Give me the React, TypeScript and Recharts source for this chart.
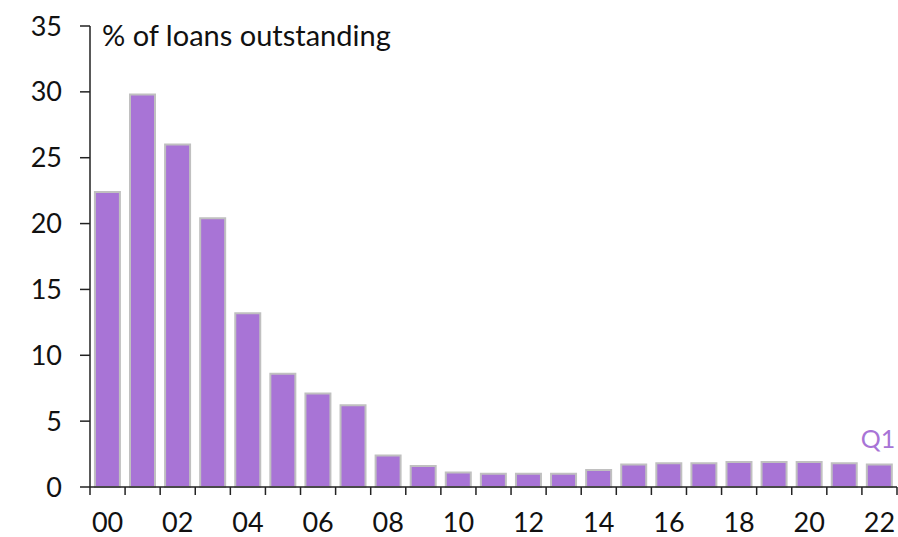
import { BarChart, Bar, XAxis, YAxis, LabelList } from "recharts";

const years = ["00", "01", "02", "03", "04", "05", "06", "07", "08", "09", "10", "11", "12", "13", "14", "15", "16", "17", "18", "19", "20", "21", "22"];
const shares = [22.4, 29.8, 26.0, 20.4, 13.2, 8.6, 7.1, 6.2, 2.4, 1.6, 1.1, 1.0, 1.0, 1.0, 1.3, 1.7, 1.8, 1.8, 1.9, 1.9, 1.9, 1.8, 1.7];
const yTicks = [0, 5, 10, 15, 20, 25, 30, 35];

const W = 898;
const H = 537;
const LEFT = 90;
const RIGHT = 1;
const FONT = "Lato, 'DejaVu Sans', sans-serif";
const PURPLE = "#a874d6";

const data = years.map((y, i) => ({ year: y, value: shares[i] }));
const band = (W - LEFT - RIGHT) / years.length;

function YearTick({ x, y, payload, index }: any) {
  const left = x - band / 2;
  return (
    <g>
      <line x1={left} y1={y} x2={left} y2={y + 8} stroke="#222" strokeWidth={1.5} />
      {index === years.length - 1 && (
        <line x1={x + band / 2} y1={y} x2={x + band / 2} y2={y + 8} stroke="#222" strokeWidth={1.5} />
      )}
      {index % 2 === 0 && (
        <text x={x} y={y + 45} textAnchor="middle" fontSize={27} fill="#111" fontFamily={FONT}>
          {payload.value}
        </text>
      )}
    </g>
  );
}

function QuarterLabel({ x, y, width, index }: any) {
  if (index !== years.length - 1) return null;
  return (
    <text x={x + width / 2 + 16} y={y - 17} textAnchor="end" fontSize={25} fill={PURPLE} fontFamily={FONT}>
      Q1
    </text>
  );
}

export default function App() {
  return (
    <div style={{ position: "absolute", left: 0, top: 0, width: W, height: H, background: "#fff" }}>
      <BarChart width={W} height={H} data={data} margin={{ top: 26, right: RIGHT, left: 0, bottom: 0 }} barCategoryGap="14%">
        <XAxis
          dataKey="year"
          interval={0}
          tickLine={false}
          tickSize={0}
          tickMargin={0}
          axisLine={{ stroke: "#222", strokeWidth: 1.5 }}
          tick={<YearTick />}
          height={50}
        />
        <YAxis
          domain={[0, 35]}
          ticks={yTicks}
          width={LEFT}
          tickSize={10}
          tickMargin={18}
          axisLine={{ stroke: "#222", strokeWidth: 1.5 }}
          tickLine={{ stroke: "#222", strokeWidth: 1.5 }}
          tick={{ fontSize: 27, fill: "#111", fontFamily: FONT }}
        />
        <Bar dataKey="value" fill={PURPLE} stroke="#c0c0c0" strokeWidth={2} isAnimationActive={false}>
          <LabelList dataKey="value" content={<QuarterLabel />} />
        </Bar>
      </BarChart>
      <div style={{ position: "absolute", left: 102, top: 17, fontSize: 29, fontFamily: FONT, color: "#111", whiteSpace: "nowrap" }}>
        % of loans outstanding
      </div>
    </div>
  );
}
